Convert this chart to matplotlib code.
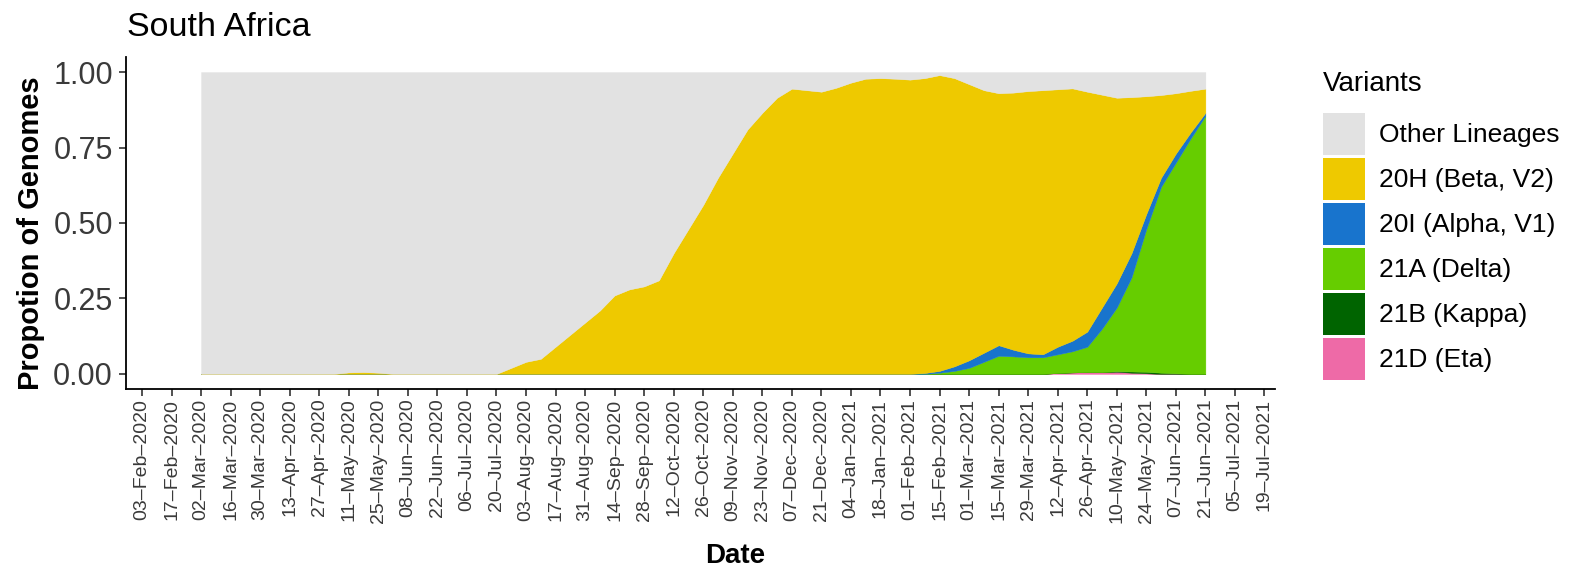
import matplotlib
matplotlib.use('Agg')
import matplotlib.pyplot as plt
from matplotlib.patches import Patch
import pandas as pd

plt.rcParams['font.family'] = ['Liberation Sans', 'DejaVu Sans']

# ---------------- data (weekly proportions) ----------------
week_start = '2020-03-02'
week_end = '2021-06-21'

other = [1.0, 1.0, 1.0, 1.0, 1.0, 1.0, 1.0, 1.0, 1.0, 1.0,
         0.995, 0.994, 0.996, 1.0, 1.0, 1.0, 1.0, 1.0, 1.0, 1.0, 1.0,
         0.98, 0.96, 0.95, 0.91, 0.87, 0.83, 0.79, 0.74, 0.72, 0.71,
         0.69, 0.60, 0.52, 0.44, 0.35, 0.27, 0.19, 0.135, 0.085, 0.055,
         0.06, 0.065, 0.052, 0.035, 0.022, 0.02, 0.022, 0.025, 0.02, 0.01,
         0.02, 0.04, 0.06, 0.07, 0.068, 0.063, 0.06, 0.057, 0.054, 0.065,
         0.075, 0.085, 0.083, 0.08, 0.076, 0.07, 0.062, 0.055]
beta = [0.0, 0.0, 0.0, 0.0, 0.0, 0.0, 0.0, 0.0, 0.0, 0.0,
        0.005, 0.006, 0.004, 0.0, 0.0, 0.0, 0.0, 0.0, 0.0, 0.0, 0.0,
        0.02, 0.04, 0.05, 0.09, 0.13, 0.17, 0.21, 0.26, 0.28, 0.29,
        0.31, 0.40, 0.48, 0.56, 0.65, 0.73, 0.81, 0.865, 0.915, 0.945,
        0.94, 0.935, 0.948, 0.965, 0.978, 0.98, 0.978, 0.975, 0.977, 0.98,
        0.955, 0.915, 0.87, 0.835, 0.852, 0.869, 0.875, 0.853, 0.836, 0.795,
        0.705, 0.615, 0.517, 0.39, 0.274, 0.20, 0.138, 0.08]
alpha = [0.0] * 49 + [0.003, 0.006, 0.015, 0.025, 0.03, 0.035, 0.022, 0.013, 0.01, 0.025,
                      0.035, 0.05, 0.07, 0.08, 0.08, 0.05, 0.03, 0.03, 0.02, 0.01]
delta = [0.0] * 50 + [0.004, 0.01, 0.02, 0.04, 0.06, 0.058, 0.055, 0.055, 0.062, 0.07,
                      0.084, 0.144, 0.211, 0.312, 0.473, 0.616, 0.698, 0.78, 0.855]
kappa = [0.0] * 62 + [0.002, 0.004, 0.005, 0.004, 0.002, 0.0, 0.0]
eta = [0.0] * 58 + [0.003, 0.005, 0.006, 0.006, 0.007, 0.004, 0.002, 0.0, 0.0, 0.0, 0.0]

variant_labels = ['Other Lineages', '20H (Beta, V2)', '20I (Alpha, V1)',
                  '21A (Delta)', '21B (Kappa)', '21D (Eta)']
variant_colors = ['#E2E2E2', '#EEC900', '#1874CD', '#66CD00', '#006400', '#EE6AA7']

tick_start = '2020-02-03'
tick_end = '2021-07-19'

# ---------------- figure ----------------
W, H = 1593, 570
fig = plt.figure(figsize=(W / 100, H / 100), dpi=100)
ax = fig.add_axes([126 / W, 1 - 389 / H, (1275 - 126) / W, (389 - 57) / H])

dates = pd.date_range(week_start, week_end, freq='7D')
series = [eta, kappa, delta, alpha, beta, other]
cols = [variant_colors[5], variant_colors[4], variant_colors[3],
        variant_colors[2], variant_colors[1], variant_colors[0]]
polys = ax.stackplot(dates, *series, colors=cols, linewidth=0)
for p in polys:
    p.set_edgecolor('face')
    p.set_linewidth(0.3)

ticks = pd.date_range(tick_start, tick_end, freq='14D')
tick_labels = [t.strftime('%d\u2013%b\u2013%Y') for t in ticks]
ax.set_xticks(ticks)
ax.set_xticklabels(tick_labels, rotation=90, fontsize=14, color='#3A3A3A')
ax.set_xlim(pd.Timestamp('2020-01-27') - pd.Timedelta(hours=14),
            pd.Timestamp('2021-07-24'))

ax.set_ylim(-0.05, 1.05)
ax.set_yticks([0, 0.25, 0.5, 0.75, 1.0])
ax.set_yticklabels(['0.00', '0.25', '0.50', '0.75', '1.00'], fontsize=22, color='#3A3A3A')

for s in ['top', 'right']:
    ax.spines[s].set_visible(False)
for s in ['left', 'bottom']:
    ax.spines[s].set_linewidth(1.3)
    ax.spines[s].set_color('black')
ax.tick_params(axis='both', length=5, width=1.2, color='#333333')
ax.tick_params(axis='y', pad=4.5)
ax.tick_params(axis='x', pad=2)

fig.text(31 / W, 1 - 233 / H, 'Propotion of Genomes', rotation=90, fontsize=21,
         fontweight='bold', color='black', ha='center', va='center')
ax.set_xlabel('Date', fontsize=20, fontweight='bold', color='black', va='center')
ax.xaxis.set_label_coords((735 - 126) / (1275 - 126), -(556 - 389) / (389 - 57))

fig.text(127 / W, 1 - 36 / H, 'South Africa', fontsize=24.5, va='baseline', ha='left', color='black')

# legend
fig.text(1323 / W, 1 - 84 / H, 'Variants', fontsize=20, va='center', ha='left', color='black')
handles = [Patch(facecolor=c, edgecolor='none') for c in variant_colors]
fs = 19
fs_px = fs * 100 / 72
hh = (42 / fs_px - 0.245) / 0.65
fig.legend(handles, variant_labels, loc='upper left',
           bbox_to_anchor=(1323 / W, 1 - 113 / H), frameon=False, fontsize=fs,
           borderpad=0, borderaxespad=0, handlelength=42 / fs_px, handleheight=hh,
           labelspacing=3 / fs_px, handletextpad=14 / fs_px)

fig.savefig('out.png', dpi=100)
